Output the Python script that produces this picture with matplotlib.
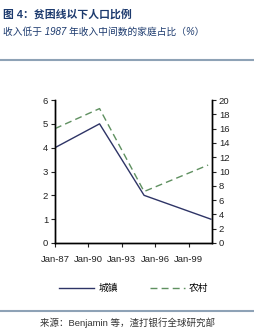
import matplotlib
matplotlib.use("Agg")
import matplotlib.pyplot as plt
from matplotlib.lines import Line2D

plt.rcParams['font.family'] = ['Liberation Sans', 'Noto Sans CJK SC', 'DejaVu Sans']

# data (decimal years)
years = [1987.0, 1991.0, 1995.0, 2001.0]
urban = [4.0, 5.0, 2.0, 1.0]          # left axis
rural_years = [1987.0, 1991.0, 1995.0, 2000.75]
rural = [16.0, 18.8, 7.2, 10.9]       # right axis
tick_years = [1987, 1990, 1993, 1996, 1999]
tick_labels = ['Jan-87', 'Jan-90', 'Jan-93', 'Jan-96', 'Jan-99']

navy = '#2e3466'
green = '#5f9060'
title_col = '#1c3a6e'

fig = plt.figure(figsize=(2.55, 3.34), dpi=100)
ax = fig.add_axes([55 / 255, 1 - 243 / 334, 157 / 255, 143 / 334])
ax2 = ax.twinx()

ax.plot(years, urban, color=navy, lw=1.0)
ax2.plot(rural_years, rural, color=green, lw=1.0, dashes=(5, 3))

ax.set_xlim(1987, 2001.1)
ax.set_ylim(0, 6)
ax2.set_ylim(0, 20)
ax.set_yticks(range(0, 7))
ax2.set_yticks(range(0, 21, 2))
ax.set_xticks(tick_years)
ax.set_xticklabels(tick_labels)

for a in (ax, ax2):
    a.spines['top'].set_visible(False)
    for s in a.spines.values():
        s.set_linewidth(1.0)
        s.set_color('black')
    a.tick_params(labelsize=6.8, length=3, width=0.8, pad=2, colors='#222222')
ax.tick_params(axis='x', pad=6)

handles = [Line2D([], [], color=navy, lw=1.0),
           Line2D([], [], color=green, lw=1.0, dashes=(5, 3))]
fig.legend(handles, ['城镇', '农村'], loc='center', bbox_to_anchor=(0.525, 1 - 288 / 334),
           ncol=2, frameon=False, fontsize=7, handlelength=3.6, columnspacing=3.3,
           handletextpad=0.4)

fig.text(3 / 255, 1 - 14 / 334, '图 4：贫困线以下人口比例', fontsize=7.8, fontweight='bold',
         color=title_col, va='center', ha='left')
fig.text(3 / 255, 1 - 32 / 334, '收入低于 1987 年收入中间数的家庭占比（%）', fontsize=7,
         style='italic', color=title_col, va='center', ha='left')
fig.add_artist(Line2D([0, 1], [1 - 60 / 334] * 2, color='#8ea2b6', lw=1.5,
                      transform=fig.transFigure))
fig.add_artist(Line2D([0, 1], [1 - 311 / 334] * 2, color='#8ea2b6', lw=1.5,
                      transform=fig.transFigure))
fig.text(0.5, 1 - 323 / 334, '来源：Benjamin 等，渣打银行全球研究部', fontsize=6.8,
         color='#333333', va='center', ha='center')

fig.savefig('out.png', dpi=100)
